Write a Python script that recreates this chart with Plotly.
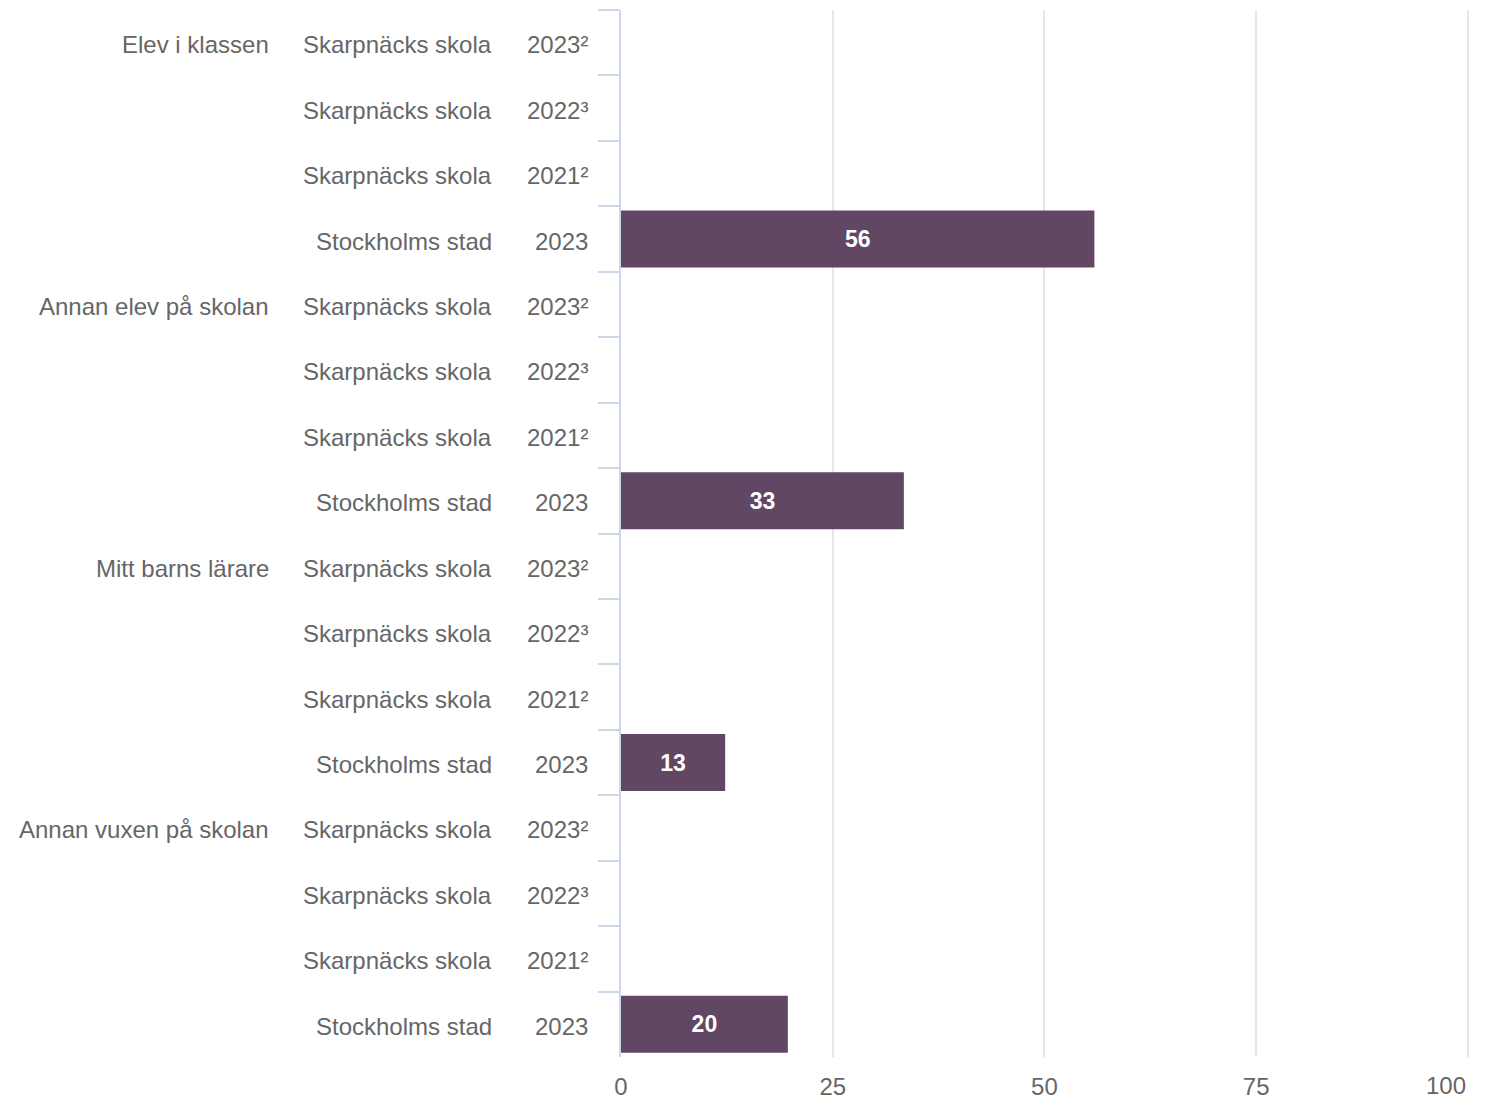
import plotly.graph_objects as go

groups = ["Elev i klassen", "Annan elev på skolan", "Mitt barns lärare", "Annan vuxen på skolan"]
units = ["Skarpnäcks skola", "Skarpnäcks skola", "Skarpnäcks skola", "Stockholms stad"]
years = ["2023²", "2022³", "2021²", "2023"]
# values per group, one per (unit, year) row; None = no data
values = [
    [None, None, None, 55.9],
    [None, None, None, 33.4],
    [None, None, None, 12.3],
    [None, None, None, 19.7],
]
labels = [
    ["", "", "", "56"],
    ["", "", "", "33"],
    ["", "", "", "13"],
    ["", "", "", "20"],
]
x_ticks = [0, 25, 50, 75, 100]
x_tick_labels = ["0", "25", "50", "75", "100"]

FONT = "Liberation Sans, Arial, sans-serif"
GREY = "#666666"
BAR = "#624764"
FS = 24

ycats, xs, texts = [], [], []
for gi, g in enumerate(groups):
    for ri in range(len(units)):
        ycats.append(f"{g}|{units[ri]}|{years[ri]}")
        xs.append(values[gi][ri])
        texts.append(labels[gi][ri])

# the last tick label is drawn right-aligned to its gridline (kept inside the chart)
tick_text = list(x_tick_labels[:-1]) + [""]

fig = go.Figure()
fig.add_trace(go.Bar(
    x=xs, y=ycats, orientation="h",
    marker=dict(color=BAR, line=dict(width=0)),
    text=texts, textposition="inside", insidetextanchor="middle",
    textfont=dict(family=FONT, size=23, color="white", weight="bold"),
    textangle=0, hoverinfo="skip",
))

annotations = []
for gi, g in enumerate(groups):
    for ri in range(len(units)):
        yc = f"{g}|{units[ri]}|{years[ri]}"
        annotations.append(dict(x=0, xref="paper", y=yc, yref="y", text=years[ri],
                                xanchor="right", yanchor="middle", xshift=-31, yshift=-2,
                                showarrow=False, font=dict(family=FONT, size=FS, color=GREY)))
        annotations.append(dict(x=0, xref="paper", y=yc, yref="y", text=units[ri],
                                xanchor="right", yanchor="middle", xshift=-127, yshift=-2,
                                showarrow=False, font=dict(family=FONT, size=FS, color=GREY)))
        if ri == 0:
            annotations.append(dict(x=0, xref="paper", y=yc, yref="y", text=g,
                                    xanchor="right", yanchor="middle", xshift=-350, yshift=-2,
                                    showarrow=False, font=dict(family=FONT, size=FS, color=GREY)))
annotations.append(dict(x=x_ticks[-1], xref="x", y=0, yref="paper", text=x_tick_labels[-1],
                        xanchor="right", yanchor="middle", yshift=-28, showarrow=False,
                        font=dict(family=FONT, size=FS, color=GREY)))

fig.update_layout(
    width=1489, height=1101, autosize=False,
    margin=dict(l=621, r=19, t=10, b=44, autoexpand=False),
    paper_bgcolor="white", plot_bgcolor="white",
    showlegend=False, bargap=0.13,
    annotations=annotations,
    font=dict(family=FONT, color=GREY),
)
fig.update_xaxes(
    range=[0, 100.25], tickvals=x_ticks, ticktext=tick_text,
    showgrid=True, gridcolor="#e6e6e6", gridwidth=2, zeroline=False, showline=False,
    ticks="", tickfont=dict(family=FONT, size=FS, color=GREY), ticklabelstandoff=13,
    fixedrange=True, automargin=False,
)
fig.update_yaxes(
    type="category", categoryorder="array", categoryarray=ycats, autorange="reversed",
    showticklabels=False, ticks="outside", tickson="boundaries", ticklen=21,
    tickcolor="#ccd6eb", tickwidth=2, showline=True, linecolor="#ccd6eb", linewidth=2,
    showgrid=False, zeroline=False, fixedrange=True, automargin=False,
)

fig.write_html(
    "out.html",
    config={"responsive": False, "displayModeBar": False},
    post_script="document.body.style.margin='0';document.body.style.padding='0';document.body.style.overflow='hidden';",
)
